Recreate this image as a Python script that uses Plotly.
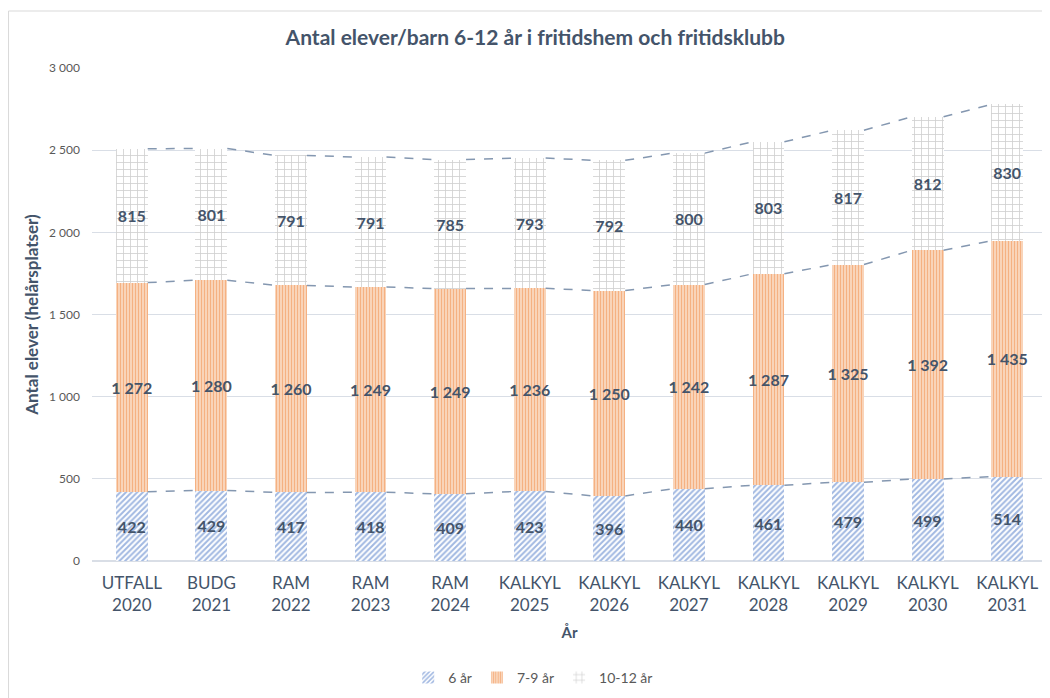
import plotly.graph_objects as go

categories = ["UTFALL<br>2020", "BUDG<br>2021", "RAM<br>2022", "RAM<br>2023", "RAM<br>2024",
              "KALKYL<br>2025", "KALKYL<br>2026", "KALKYL<br>2027", "KALKYL<br>2028",
              "KALKYL<br>2029", "KALKYL<br>2030", "KALKYL<br>2031"]
ar6 = [422, 429, 417, 418, 409, 423, 396, 440, 461, 479, 499, 514]
ar7_9 = [1272, 1280, 1260, 1249, 1249, 1236, 1250, 1242, 1287, 1325, 1392, 1435]
ar10_12 = [815, 801, 791, 791, 785, 793, 792, 800, 803, 817, 812, 830]

x = list(range(len(categories)))
bw = 0.4
txtcol = "#44546A"

fig = go.Figure()
series = [
    ("6 år", ar6, dict(shape="/", fgcolor="#4472C4", bgcolor="white", size=4, solidity=0.5)),
    ("7-9 år", ar7_9, dict(shape="|", fgcolor="#ED7D31", bgcolor="#FCE4D3", size=3, solidity=0.55)),
    ("10-12 år", ar10_12, dict(shape="+", fgcolor="#9E9E9E", bgcolor="white", size=7, solidity=0.22)),
]
for name, vals, pat in series:
    fig.add_trace(go.Bar(
        x=x, y=vals, name=name, width=bw,
        marker=dict(color="white", pattern=pat, line=dict(width=0)),
        text=[f"{v:,}".replace(",", " ") for v in vals],
        textposition="inside", insidetextanchor="middle", textangle=0,
        constraintext="none",
        textfont=dict(family="Lato", size=16, color=txtcol, weight="bold"),
        hoverinfo="skip",
    ))

# series lines connecting segment tops
cum = [0] * len(x)
for vals in (ar6, ar7_9, ar10_12):
    cum = [c + v for c, v in zip(cum, vals)]
    lx, ly = [], []
    for i in range(len(x) - 1):
        lx += [x[i] + bw / 2, x[i + 1] - bw / 2, None]
        ly += [cum[i], cum[i + 1], None]
    fig.add_trace(go.Scatter(x=lx, y=ly, mode="lines", showlegend=False, hoverinfo="skip",
                             line=dict(color="#8497B0", width=1.5, dash="dash")))

fig.update_layout(
    width=1042, height=690,
    autosize=False,
    barmode="stack",
    separators=", ",
    plot_bgcolor="white", paper_bgcolor="white",
    margin=dict(l=84, r=3, t=60, b=137, autoexpand=False),
    font=dict(family="Lato", color="#595959"),
    title=dict(text="<b>Antal elever/barn 6-12 år i fritidshem och fritidsklubb</b>",
               x=0.506, xanchor="center", y=0.9565, yanchor="middle",
               font=dict(family="Lato", size=21, color=txtcol)),
    xaxis=dict(tickmode="array", tickvals=x, ticktext=categories, range=[-0.5, 11.5],
               showgrid=False, zeroline=False, showline=False, ticks="", tickangle=0,
               automargin=False, ticklabelstandoff=10,
               tickfont=dict(size=17, color=txtcol),
               title=dict(text="<b>År</b>", font=dict(size=15, color=txtcol), standoff=13)),
    yaxis=dict(range=[0, 3000], tick0=0, dtick=500, tickformat=",d", automargin=False,
               showgrid=True, gridcolor="#D9DEE6", gridwidth=1, zeroline=True, zerolinecolor="#D9DEE6",
               ticks="", tickfont=dict(size=12, color="#595959"), ticklabelstandoff=11,
               title=dict(text="<b>Antal elever (helårsplatser)</b>", font=dict(size=17, color=txtcol),
                          standoff=6)),
    legend=dict(orientation="h", x=0.462, xanchor="center",
                y=-0.237, yanchor="middle", font=dict(size=14, color="#595959"),
                traceorder="normal", itemwidth=30),
    shapes=[
        dict(type="line", xref="paper", yref="paper", x0=-0.0874, x1=-0.0874, y0=-0.5, y1=1.1156,
             line=dict(color="#D9D9D9", width=1)),
        dict(type="line", xref="paper", yref="paper", x0=-0.0874, x1=1.1, y0=1.1156, y1=1.1156,
             line=dict(color="#D9D9D9", width=1)),
    ],
)

fig.write_html("out.html")
